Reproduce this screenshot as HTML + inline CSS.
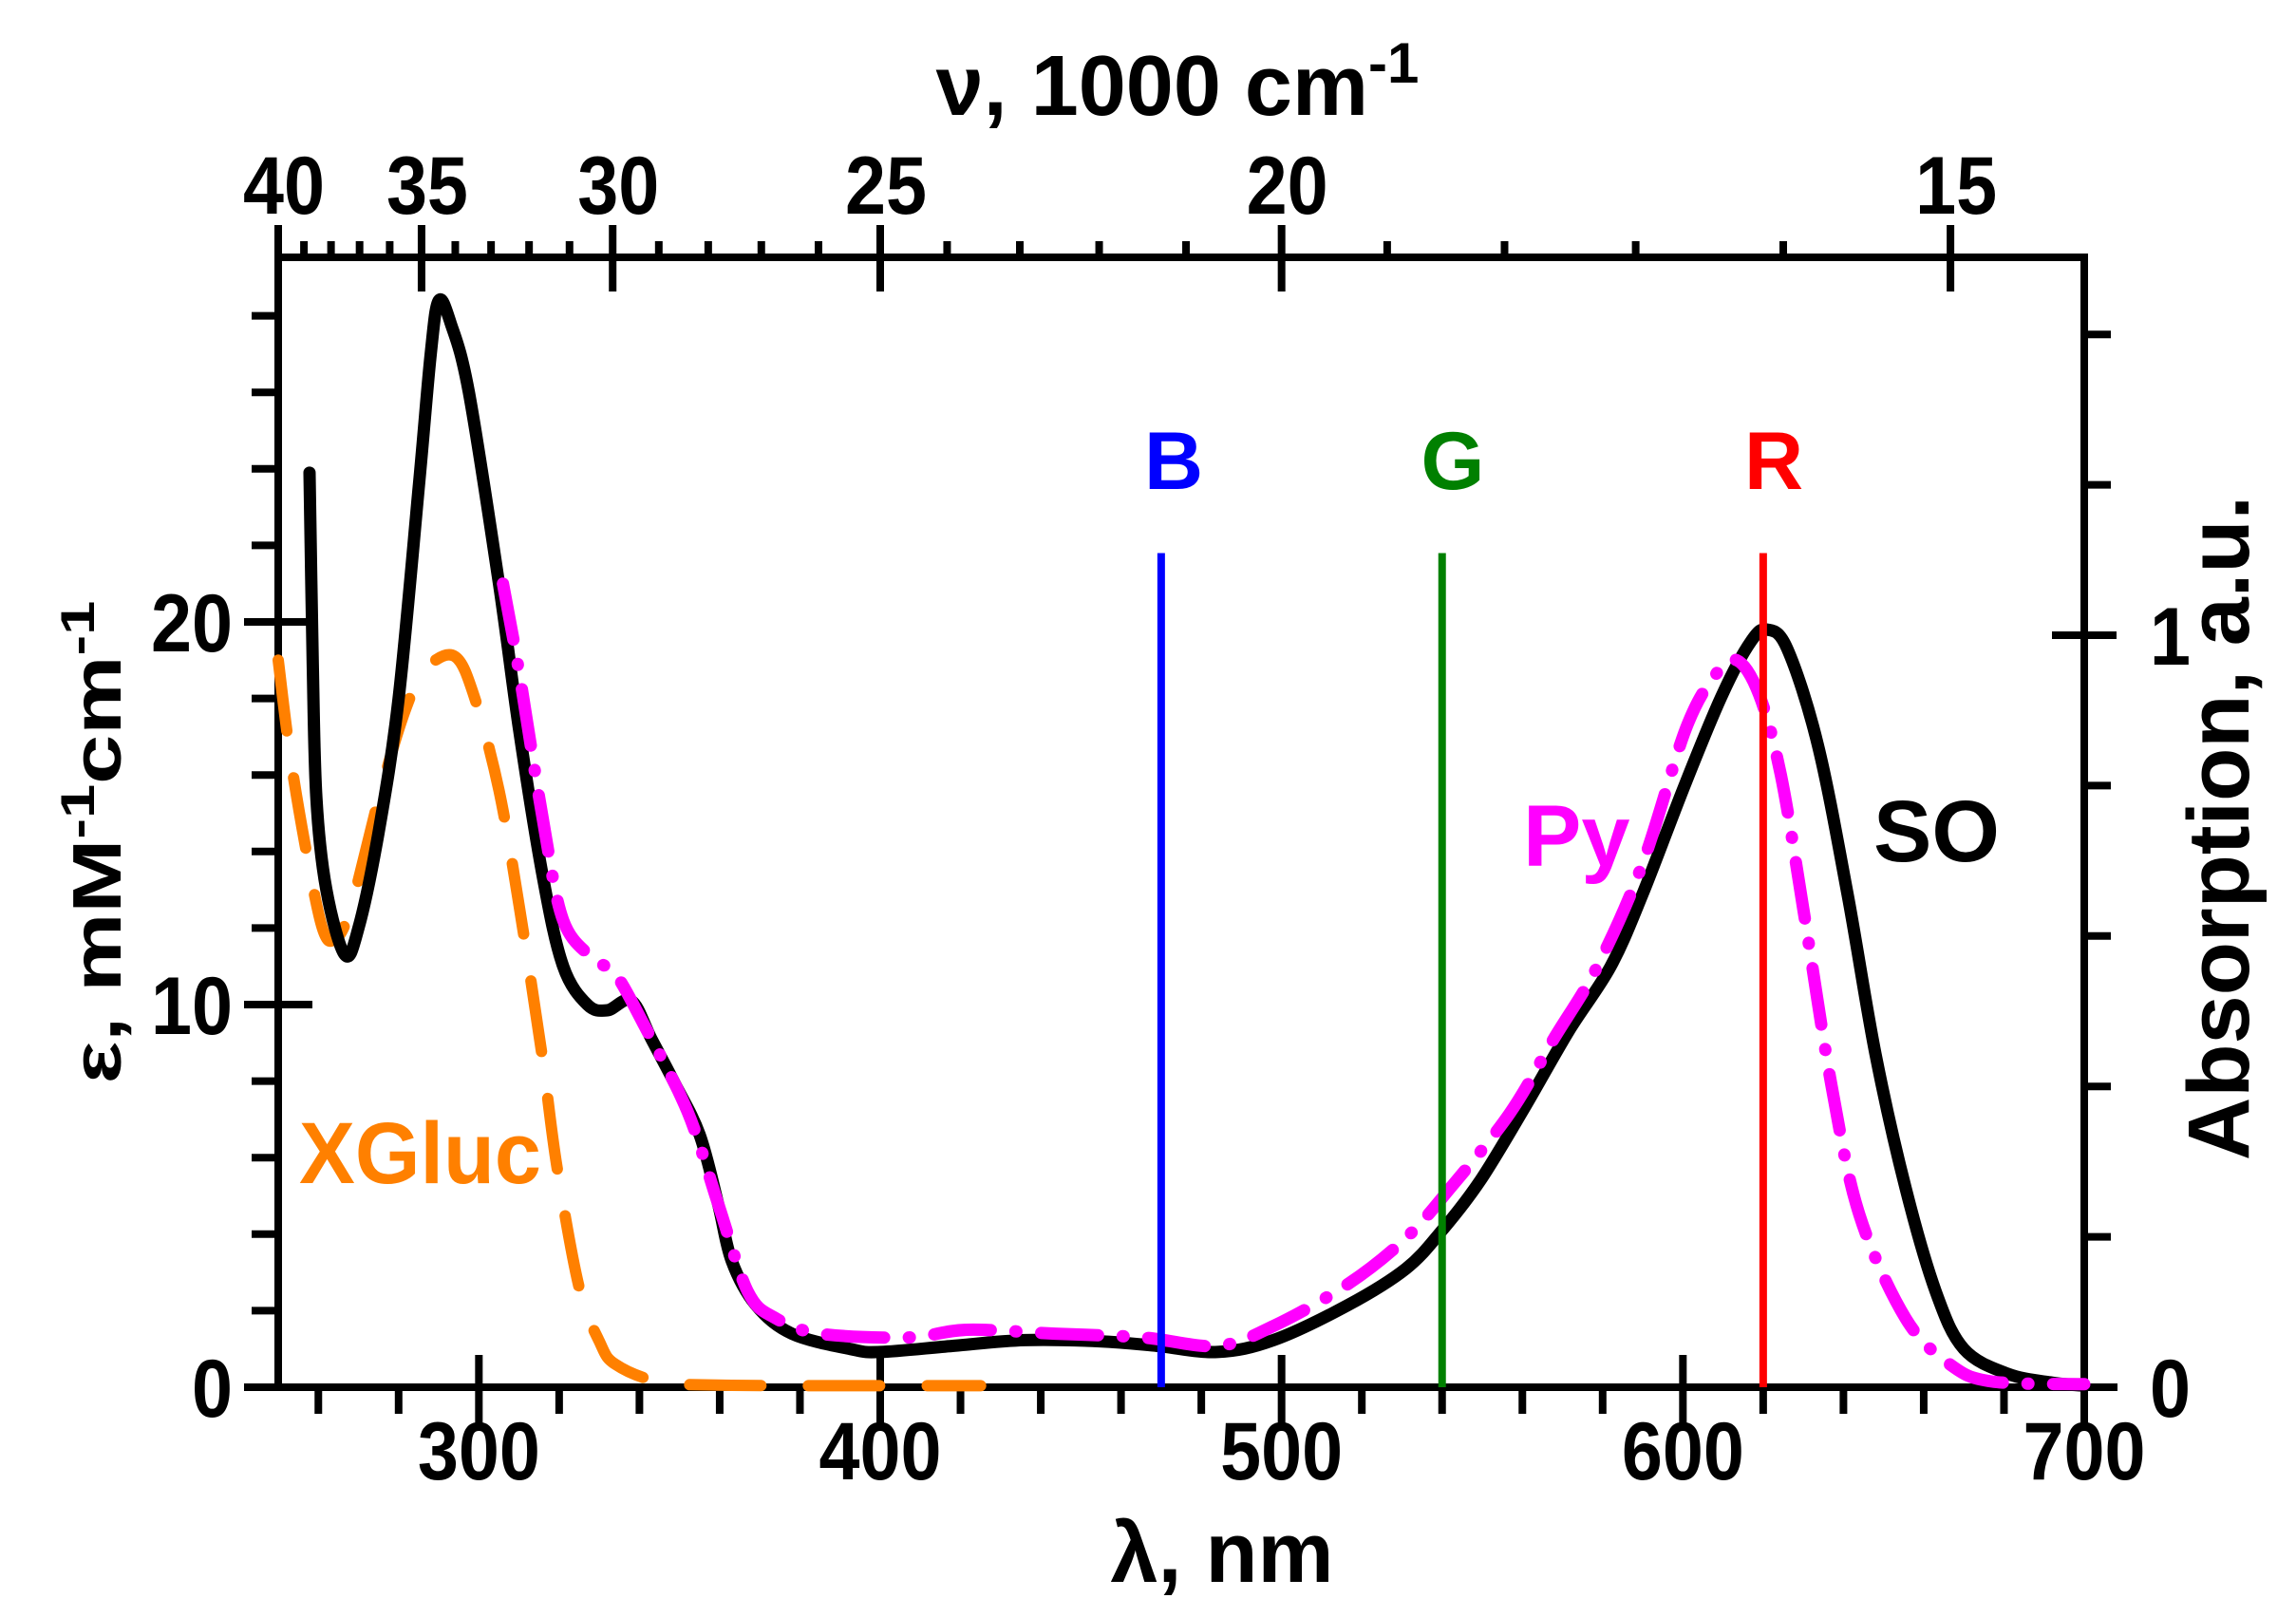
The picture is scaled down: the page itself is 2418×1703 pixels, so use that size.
<!DOCTYPE html>
<html><head><meta charset="utf-8"><style>
html,body{margin:0;padding:0;background:#fff;}
svg{display:block;}
text{font-family:"Liberation Sans",Arial,sans-serif;font-weight:bold;}
</style></head><body>
<svg id="s" width="2418" height="1703" viewBox="0 0 2418 1703" xmlns="http://www.w3.org/2000/svg">
<g id="ax" stroke="#000" stroke-width="8" fill="none"></g>
<g id="curves" fill="none" stroke-linecap="round" stroke-linejoin="round"></g>
<g id="lbl" fill="#000" font-size="86"></g>
<text x="1240" y="121" font-size="90" text-anchor="middle">ν, 1000 cm<tspan font-size="60" dy="-34">-1</tspan></text>
<text x="1287" y="1666" font-size="90" text-anchor="middle">λ, nm</text>
<text transform="translate(127,887) rotate(-90) scale(1.3,1)" font-size="72" text-anchor="middle">ε, mM<tspan font-size="50" dy="-28">-1</tspan><tspan dy="28">cm</tspan><tspan font-size="50" dy="-28">-1</tspan></text>
<text transform="translate(2368,872) rotate(-90)" font-size="92" text-anchor="middle">Absorption, a.u.</text>
<text x="315" y="1246" font-size="92" fill="#ff8000" textLength="255" lengthAdjust="spacingAndGlyphs">XGluc</text>
<text x="1604" y="912" font-size="92" fill="#ff00ff">Py</text>
<text x="1973" y="907" font-size="92" fill="#000">SO</text>
<text x="1236" y="515" font-size="86" fill="#0000ff" text-anchor="middle">B</text>
<text x="1530" y="515" font-size="86" fill="#008000" text-anchor="middle">G</text>
<text x="1868" y="515" font-size="86" fill="#ff0000" text-anchor="middle">R</text>
</svg>
<script>
const L=293,R=2195,T=271,B=1461;
const X=l=>L+(l-250)*(R-L)/450, Y=e=>B-e*40.3;
const ns="http://www.w3.org/2000/svg";
function el(p,t,a){const e=document.createElementNS(ns,t);for(const k in a)e.setAttribute(k,a[k]);p.appendChild(e);return e;}
const ax=document.getElementById('ax'),lbl=document.getElementById('lbl'),cv=document.getElementById('curves');
el(ax,'rect',{x:L,y:T,width:R-L,height:B-T});
function ln(x1,y1,x2,y2){el(ax,'line',{x1,y1,x2,y2});}
function tx(x,y,s,anc){const t=el(lbl,'text',{x,y,'text-anchor':anc,textLength:s.length*43,lengthAdjust:'spacingAndGlyphs'});t.textContent=s;}
for(let l=260;l<=700;l+=20){const x=X(l);if(l%100==0){ln(x,B-34,x,B+38);tx(x,1558,String(l),'middle');}else ln(x,B,x,B+28);}
for(let e=0;e<=28;e+=2){const y=Y(e);if(e%10==0){ln(L-36,y,L+36,y);tx(245,y+31,String(e),'end');}else ln(L-28,y,L,y);}
for(let a=0;a<=1.4001;a+=0.2){const y=B-a*792;if(y<T)break;if(Math.abs(a-Math.round(a))<1e-6){ln(R-34,y,R+34,y);tx(2264,y+31,String(Math.round(a)),'start');}else ln(R,y,R+28,y);}
ln(R,B,R,1497);ln(R,B,2230,B);
for(let v=40;v>=14;v--){const l=1e4/v;if(l>700)break;const x=X(l);if(v%5==0){ln(x,237,x,307);tx(x+6,225,String(v),'middle');}else ln(x,T-17,x,T);}
function path(pts){const P=pts.map(p=>[X(p[0]),Y(p[1])]);let d='M'+P[0][0]+','+P[0][1];
for(let i=0;i<P.length-1;i++){const p0=P[i-1]||P[i],p1=P[i],p2=P[i+1],p3=P[i+2]||P[i+1];
const c1=[p1[0]+(p2[0]-p0[0])/6,p1[1]+(p2[1]-p0[1])/6],c2=[p2[0]-(p3[0]-p1[0])/6,p2[1]-(p3[1]-p1[1])/6];
d+=`C${c1[0].toFixed(1)},${c1[1].toFixed(1)} ${c2[0].toFixed(1)},${c2[1].toFixed(1)} ${p2[0].toFixed(1)},${p2[1].toFixed(1)}`;}return d;}
const xg=[[250,19],[253,16.5],[257,14],[261,12],[264,11.7],[268,12.5],[275.6,15.6],[282,17.8],[287,18.8],[294,19.1],[299,18],[305,15.6],[310,12.6],[315.7,8.7],[319.4,5.8],[325,2.6],[330,1.2],[334,0.6],[345,0.15],[363,0.05],[425,0.04]];
const so=[[257.8,23.9],[258.6,19],[259.5,15.4],[262,13],[266.6,11.3],[270,12],[275,14.5],[280,18],[285,23.5],[288,27],[290,28.4],[293,27.8],[297.5,26],[305,21],[310,17.2],[316,13.3],[321,11],[327,10],[332,9.85],[338,10.1],[343,9.1],[349,7.9],[355,6.6],[359.6,4.8],[363,3.3],[369,2.15],[378,1.4],[392.5,1.0],[400,0.92],[418,1.08],[436,1.23],[454.6,1.2],[469,1.08],[484,0.92],[498,1.23],[516.6,2.15],[531,3.1],[540,4.1],[549.5,5.4],[560.5,7.3],[571.5,9.3],[582,11],[590,12.9],[600.7,15.8],[609.8,18.1],[617,19.5],[621,19.8],[626,19.3],[633.6,16.8],[641,12.9],[648,8.7],[655.5,5.2],[663,2.5],[670,1.0],[681,0.35],[692,0.12],[700,0.04]];
const py=[[306,21],[310,18.7],[316,14.8],[321,12.2],[328.5,11.2],[334,10.8],[341,9.5],[352,7.2],[359.6,4.8],[367,2.5],[374,1.8],[385,1.4],[407,1.3],[421.7,1.5],[443.6,1.4],[465.5,1.3],[484,1.08],[498,1.6],[516.6,2.7],[531,3.9],[542,5.2],[556.8,7.15],[567.8,9.1],[578.7,11],[590,13.7],[600.7,17.2],[608,18.6],[613.4,19],[619,18.1],[624.4,16],[630,12.5],[637,7.9],[644,4.5],[655.5,1.8],[666.5,0.6],[677,0.15],[700,0.08]];
el(cv,'path',{d:path(xg),stroke:'#ff8000','stroke-width':12,'stroke-dasharray':'75 50'});
el(cv,'path',{d:path(so),stroke:'#000','stroke-width':13});
el(cv,'path',{d:path(py),stroke:'#ff00ff','stroke-width':13,'stroke-dasharray':'60 26 1 26'});
[[470,'#0000ff'],[540,'#008000'],[620,'#ff0000']].forEach(([l,c])=>el(cv,'line',{x1:X(l),x2:X(l),y1:Y(21.8),y2:B,stroke:c,'stroke-width':8,'stroke-linecap':'butt'}));
</script>
</body></html>
